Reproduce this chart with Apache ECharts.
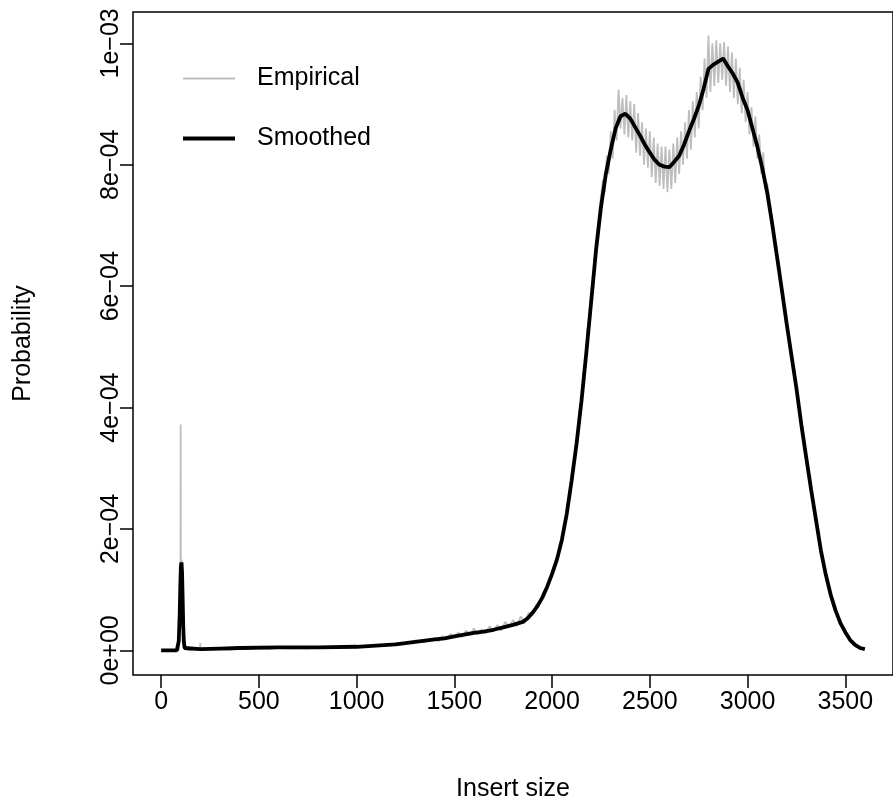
<!DOCTYPE html>
<html>
<head>
<meta charset="utf-8">
<script src="https://cdn.jsdelivr.net/npm/echarts@6/dist/echarts.min.js"></script>
<style>
html, body { margin: 0; padding: 0; background: #fff; }
#main { width: 893px; height: 807px; }
</style>
</head>
<body>
<div id="main"></div>
<script>
// probabilities below are written in units of 1e-4
var unit = 1e-4

// [insert size, probability]
var smoothed = [
  [0,0],[50,0],[80,0],[85,0.02],[90,0.15],[95,0.6],[98,1.05],[101,1.38],[104,1.45],[107,1.28],
  [110,0.85],[113,0.4],[116,0.15],[120,0.04],[130,0.01],[200,0.02],[300,0.03],[400,0.04],[600,0.05],
  [800,0.05],[1000,0.06],[1100,0.08],[1200,0.1],[1300,0.14],[1400,0.18],[1450,0.2],[1500,0.23],
  [1550,0.26],[1600,0.29],[1650,0.31],[1700,0.34],[1750,0.38],[1800,0.42],[1850,0.47],[1875,0.53],
  [1900,0.62],[1925,0.73],[1950,0.87],[1975,1.05],[2000,1.26],[2025,1.5],[2050,1.82],[2075,2.25],
  [2100,2.8],[2125,3.4],[2150,4.1],[2175,4.9],[2200,5.75],[2225,6.6],[2250,7.3],[2275,7.85],
  [2300,8.25],[2325,8.6],[2350,8.8],[2375,8.84],[2400,8.76],[2425,8.62],[2450,8.48],[2475,8.33],
  [2500,8.2],[2525,8.08],[2550,8.0],[2575,7.97],[2600,7.96],[2625,8.05],[2650,8.15],[2675,8.33],
  [2700,8.55],[2725,8.75],[2750,8.97],[2775,9.25],[2800,9.58],[2825,9.65],[2850,9.7],[2875,9.75],
  [2900,9.62],[2925,9.5],[2950,9.35],[2975,9.1],[3000,8.9],[3025,8.6],[3050,8.3],[3075,7.95],
  [3100,7.55],[3125,7.05],[3150,6.5],[3175,5.95],[3200,5.38],[3225,4.85],[3250,4.32],[3275,3.72],
  [3300,3.18],[3325,2.65],[3350,2.15],[3375,1.65],[3400,1.25],[3425,0.92],[3450,0.66],[3475,0.45],
  [3500,0.3],[3525,0.17],[3550,0.09],[3575,0.04],[3600,0.02]
]

var empirical = [
  [0,0],[50,0],[90,0],[92,0.1],[96,0.6],[99,1.2],[100,3.72],[101,1.4],[104,1.5],[108,1.0],
  [112,0.4],[116,0.1],[120,0.02],[150,0],[175,0.02],[199,0.01],[200,0.12],[201,0.01],[250,0.01],
  [300,0.02],[350,0.01],[400,0.03],[450,0.02],[500,0.04],[550,0.02],[600,0.05],[650,0.03],
  [700,0.04],[750,0.03],[800,0.05],[850,0.04],[900,0.06],[950,0.04],[1000,0.07],[1050,0.06],
  [1100,0.09],[1150,0.08],[1200,0.12],[1250,0.11],[1300,0.16],[1350,0.14],[1400,0.2],
  [1420,0.15],[1440,0.24],[1460,0.18],[1480,0.27],[1500,0.21],[1520,0.3],[1540,0.22],[1560,0.33],
  [1580,0.25],[1600,0.36],[1620,0.26],[1640,0.35],[1660,0.28],[1680,0.4],[1700,0.31],[1720,0.42],
  [1740,0.33],[1760,0.47],[1780,0.38],[1800,0.5],[1820,0.4],[1840,0.56],[1860,0.45],[1880,0.62],
  [1900,0.58],[1920,0.76],[1940,0.78],[1960,0.98],[1980,1.07],[2000,1.3],[2010,1.3],[2020,1.5],
  [2030,1.55],[2040,1.75],[2050,1.8],[2060,2.05],[2070,2.12],[2080,2.45],[2090,2.5],[2100,2.9],
  [2110,2.95],[2120,3.4],[2130,3.5],[2140,3.95],[2150,4.05],[2160,4.6],[2170,4.65],[2180,5.3],
  [2190,5.35],[2200,5.9],[2210,5.95],[2220,6.6],[2230,6.6],[2240,7.2],[2250,7.2],[2260,7.75],
  [2270,7.55],[2280,8.15],[2290,7.85],[2300,8.55],[2310,8.1],[2320,8.9],[2330,8.4],[2340,9.24],
  [2350,8.6],[2360,9.1],[2370,8.5],[2380,9.15],[2390,8.45],[2400,9.05],[2410,8.4],[2420,9.0],
  [2430,8.2],[2440,8.85],[2450,8.15],[2460,8.7],[2470,8.0],[2480,8.6],[2490,7.95],[2500,8.55],
  [2510,7.8],[2520,8.45],[2530,7.7],[2540,8.35],[2550,7.65],[2560,8.3],[2570,7.6],[2580,8.3],
  [2590,7.55],[2600,8.25],[2610,7.6],[2620,8.35],[2630,7.7],[2640,8.45],[2650,7.85],[2660,8.55],
  [2670,8.0],[2680,8.7],[2690,8.1],[2700,8.9],[2710,8.25],[2720,9.05],[2730,8.45],[2740,9.2],
  [2750,8.6],[2760,9.45],[2770,8.9],[2780,9.75],[2790,9.1],[2800,10.13],[2810,9.2],[2820,10.0],
  [2830,9.3],[2840,10.05],[2850,9.35],[2860,10.0],[2870,9.4],[2880,10.02],[2890,9.3],[2900,9.95],
  [2910,9.2],[2920,9.85],[2930,9.1],[2940,9.75],[2950,9.0],[2960,9.6],[2970,8.85],[2980,9.4],
  [2990,8.7],[3000,9.2],[3010,8.5],[3020,8.95],[3030,8.3],[3040,8.8],[3050,8.1],[3060,8.5],
  [3070,7.85],[3080,8.2],[3090,7.6],[3100,7.7],[3120,7.25],[3140,6.6],[3160,6.4],[3180,5.75],
  [3200,5.5],[3220,4.9],[3240,4.6],[3260,4.05],[3280,3.7],[3300,3.15],[3320,2.85],[3340,2.3],
  [3360,1.98],[3380,1.55],[3400,1.3],[3420,0.95],[3440,0.78],[3460,0.55],[3480,0.43],[3500,0.28],
  [3520,0.2],[3540,0.11],[3560,0.08],[3580,0.03],[3600,0.02]
]

var xTicks = [0, 500, 1000, 1500, 2000, 2500, 3000, 3500]
var yTicks = [0, 2e-4, 4e-4, 6e-4, 8e-4, 1e-3]
var yTickLabels = ['0e+00', '2e\u221204', '4e\u221204', '6e\u221204', '8e\u221204', '1e\u221203']

function scaled(arr) {
  return arr.map(function (p) { return [p[0], p[1] * unit] })
}

var font = 'Liberation Sans, Arial, Helvetica, sans-serif'
var fs = 25
var chart = echarts.init(document.getElementById('main'))

var legendText = { fontSize: fs, color: '#000', fontFamily: font, padding: [0, 0, 0, 17] }

var option = {
  animation: false,
  backgroundColor: '#fff',
  grid: { left: 133, top: 12, right: -5, bottom: 129, show: true, borderColor: '#000', borderWidth: 1.5 },
  legend: [
    {
      data: ['Empirical'], icon: 'rect', left: 183, top: 66, padding: 0,
      itemWidth: 52, itemHeight: 2, textStyle: legendText
    },
    {
      data: ['Smoothed'], icon: 'rect', left: 183, top: 126, padding: 0,
      itemWidth: 52, itemHeight: 4, textStyle: legendText
    }
  ],
  xAxis: {
    type: 'value',
    min: -144,
    max: 3744,
    name: 'Insert size',
    nameLocation: 'middle',
    nameGap: 102,
    nameTextStyle: { fontSize: fs, color: '#000', fontFamily: font },
    axisLine: { show: false, onZero: false },
    splitLine: { show: false },
    axisTick: { show: true, customValues: xTicks, length: 13, lineStyle: { color: '#000', width: 1.5 } },
    axisLabel: {
      customValues: xTicks, fontSize: fs, color: '#000', fontFamily: font, margin: 15,
      formatter: function (v) { return String(v) }
    }
  },
  yAxis: {
    type: 'value',
    min: -4.05e-5,
    max: 1.0517e-3,
    name: 'Probability',
    nameLocation: 'middle',
    nameGap: 97,
    nameTextStyle: { fontSize: fs, color: '#000', fontFamily: font },
    axisLine: { show: false, onZero: false },
    splitLine: { show: false },
    axisTick: { show: true, customValues: yTicks, length: 13, lineStyle: { color: '#000', width: 1.5 } },
    axisLabel: {
      customValues: yTicks,
      rotate: 90,
      fontSize: fs,
      color: '#000',
      fontFamily: font,
      margin: 9,
      formatter: function (v) {
        var best = 0
        for (var i = 0; i < yTicks.length; i++) {
          if (Math.abs(yTicks[i] - v) < Math.abs(yTicks[best] - v)) best = i
        }
        return yTickLabels[best]
      }
    }
  },
  series: [
    {
      name: 'Empirical',
      type: 'line',
      data: scaled(empirical),
      symbol: 'none',
      itemStyle: { color: '#bebebe' },
      lineStyle: { color: '#bebebe', width: 1.8 },
      z: 1
    },
    {
      name: 'Smoothed',
      type: 'line',
      data: scaled(smoothed),
      symbol: 'none',
      itemStyle: { color: '#000' },
      lineStyle: { color: '#000', width: 3.8 },
      z: 2
    }
  ]
}
chart.setOption(option)
</script>
</body>
</html>
